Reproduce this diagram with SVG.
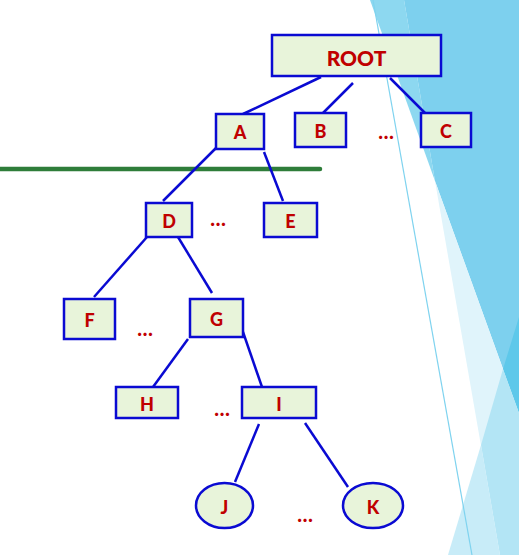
<svg xmlns="http://www.w3.org/2000/svg" width="519" height="555" viewBox="0 0 519 555">
<style>
.n{fill:#e8f4da;stroke:#0a0ad2;stroke-width:2.5}
.t{font-family:Lato,"Liberation Sans",sans-serif;font-weight:900;fill:#c00000;text-anchor:middle;dominant-baseline:central;font-size:18px}
.d{font-size:20px}
.c line{stroke:#0a0ad2;stroke-width:2.5}
</style>
<rect width="519" height="555" fill="#ffffff"/>
<g id="background">
<polygon points="370,0 404,0 435,181" fill="#8dd8f0"/>
<polygon points="404,0 519,0 519,413 435,181" fill="#7dd0ee"/>
<polygon points="435,181 519,413 519,555 500,555" fill="#e0f4fb"/>
<polygon points="503,369 519,317 519,413" fill="#5ec8ea"/>
<polygon points="503,369 519,413 519,555 500,555 481,445" fill="#b3e5f5"/>
<polygon points="481,445 500,555 448,555" fill="#c8ecf8"/>
<line x1="373" y1="0" x2="472" y2="555" stroke="#7fd3ef" stroke-width="1.2"/>
</g>
<line id="green-line" x1="0" y1="169" x2="320" y2="169" stroke="#2e7d3a" stroke-width="4.5" stroke-linecap="round"/>
<g class="c" id="connectors">
<line x1="321" y1="77" x2="243" y2="114"/>
<line x1="353" y1="83" x2="322" y2="114"/>
<line x1="390" y1="78" x2="427" y2="115"/>
<line x1="216" y1="148" x2="163" y2="201"/>
<line x1="264" y1="152" x2="283" y2="201"/>
<line x1="147" y1="237" x2="94" y2="297"/>
<line x1="178" y1="237" x2="212" y2="293"/>
<line x1="188" y1="339" x2="153" y2="387"/>
<line x1="243" y1="332" x2="262" y2="387"/>
<line x1="259" y1="424" x2="235" y2="482"/>
<line x1="305" y1="423" x2="348" y2="487"/>
</g>
<g id="ROOT"><rect class="n" x="272" y="35" width="169" height="41"/><text class="t" x="356.5" y="57" style="font-size:21px">ROOT</text></g>
<g id="A"><rect class="n" x="216" y="114" width="48" height="35"/><text class="t" x="240" y="132">A</text></g>
<g id="B"><rect class="n" x="295" y="113" width="51" height="34"/><text class="t" x="320.5" y="131">B</text></g>
<g id="C"><rect class="n" x="421" y="113" width="50" height="34"/><text class="t" x="446" y="131">C</text></g>
<g id="D"><rect class="n" x="146" y="203" width="46" height="34"/><text class="t" x="169" y="221">D</text></g>
<g id="E"><rect class="n" x="264" y="203" width="53" height="34"/><text class="t" x="290.5" y="221">E</text></g>
<g id="F"><rect class="n" x="64" y="299" width="51" height="40"/><text class="t" x="89.5" y="320">F</text></g>
<g id="G"><rect class="n" x="190" y="299" width="53" height="38"/><text class="t" x="216.5" y="319">G</text></g>
<g id="H"><rect class="n" x="116" y="387" width="62" height="31"/><text class="t" x="147" y="404">H</text></g>
<g id="I"><rect class="n" x="242" y="387" width="74" height="31"/><text class="t" x="279" y="404">I</text></g>
<g id="J"><ellipse class="n" cx="224.5" cy="505.5" rx="28.5" ry="22.5"/><text class="t" x="224.5" y="507">J</text></g>
<g id="K"><ellipse class="n" cx="373" cy="505.5" rx="30" ry="22.5"/><text class="t" x="373" y="507">K</text></g>
<g id="dots">
<text class="t d" x="386" y="131">…</text>
<text class="t d" x="218" y="218">…</text>
<text class="t d" x="145" y="328">…</text>
<text class="t d" x="222" y="408">…</text>
<text class="t d" x="305" y="514">…</text>
</g>
</svg>
